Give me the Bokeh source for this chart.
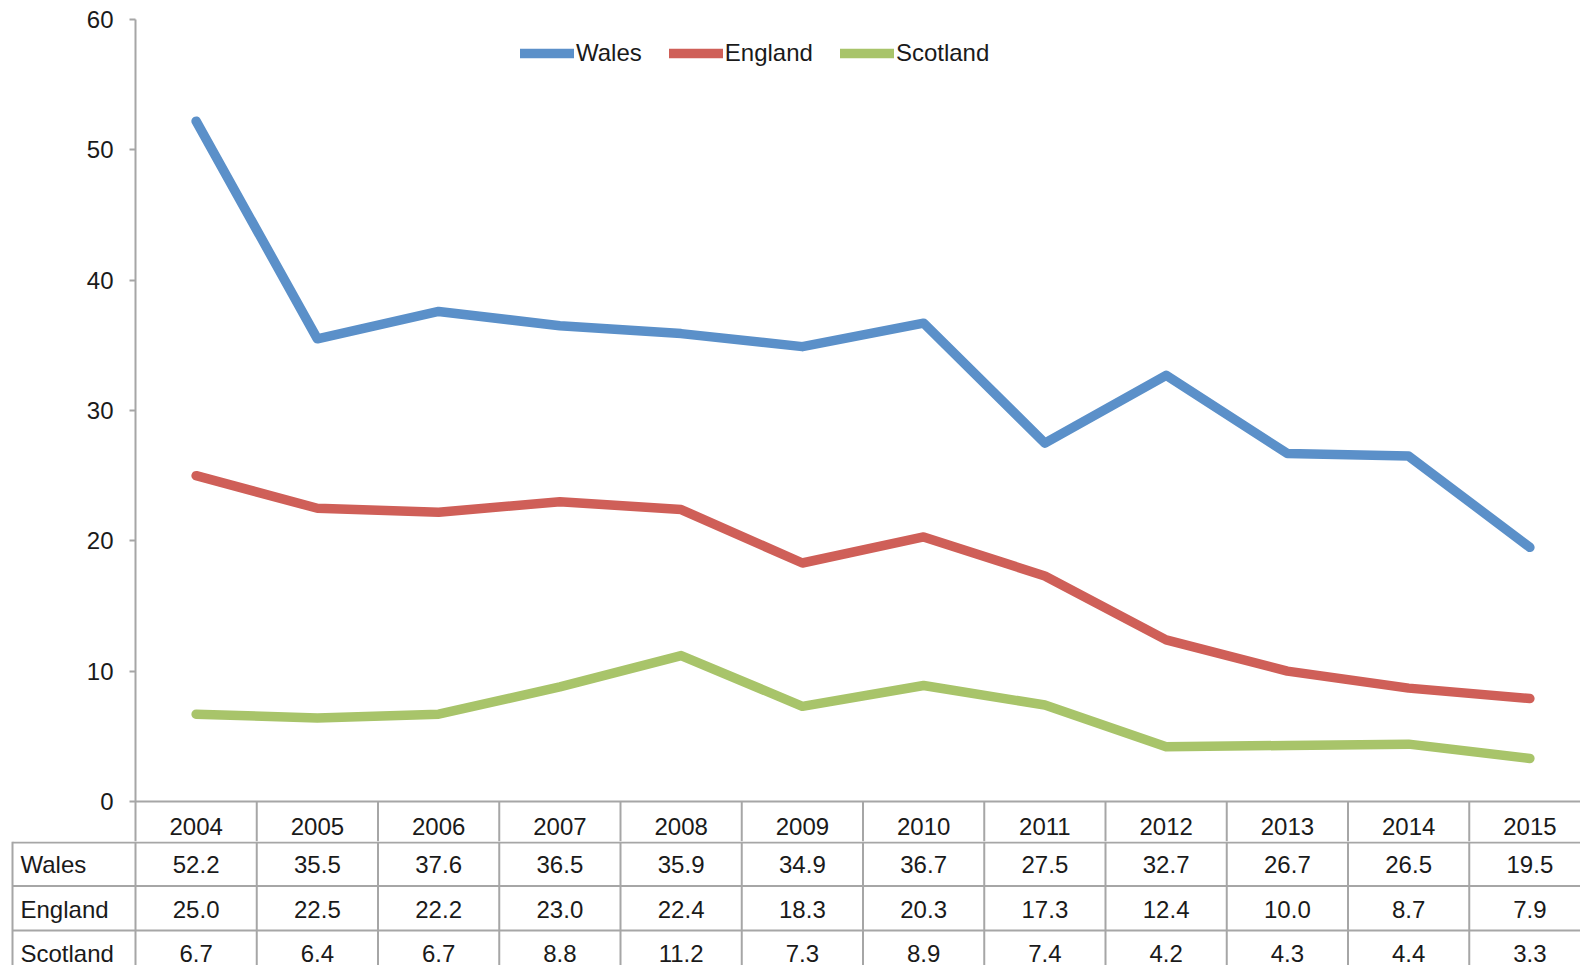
from bokeh.plotting import figure
from bokeh.models import Range1d, FixedTicker, Legend, LegendItem
from bokeh.layouts import column
from bokeh.core.properties import value
from bokeh.embed import file_html
from bokeh.resources import INLINE

years = ["2004", "2005", "2006", "2007", "2008", "2009", "2010", "2011", "2012", "2013", "2014", "2015"]
wales = [52.2, 35.5, 37.6, 36.5, 35.9, 34.9, 36.7, 27.5, 32.7, 26.7, 26.5, 19.5]
england = [25.0, 22.5, 22.2, 23.0, 22.4, 18.3, 20.3, 17.3, 12.4, 10.0, 8.7, 7.9]
scotland = [6.7, 6.4, 6.7, 8.8, 11.2, 7.3, 8.9, 7.4, 4.2, 4.3, 4.4, 3.3]
series_names = ["Wales", "England", "Scotland"]
y_ticks = [0, 10, 20, 30, 40, 50, 60]

colors = ["#5b90c9", "#cf5f58", "#a8c46a"]
FONT = value("Liberation Sans")
FS = "24px"
TXT = "#1a1a1a"
GRID = "#a6a6a6"

# layout constants (pixels)
W = 1590
LEFT = 135          # frame left
TOP = 19
PLOT_H = 782        # pixels from 60 to 0
HEADER_H = 40
TABLE_H = 127
ROW_H = 44.5
TABLE_LEFT = 12     # table left border

n = len(years)
cw = (W - LEFT) / n
ppu = PLOT_H / 60.0
ymin = -HEADER_H / ppu
xs = [i + 0.5 for i in range(n)]
frame_bottom = TOP + PLOT_H + HEADER_H

p = figure(width=W, height=frame_bottom, output_backend="svg", toolbar_location=None,
           x_range=Range1d(0, n), y_range=Range1d(ymin, 60), x_axis_location=None,
           min_border_left=LEFT, min_border_right=0, min_border_top=TOP, min_border_bottom=0,
           frame_align=False)
p.outline_line_color = None
p.xgrid.visible = False
p.ygrid.visible = False
p.background_fill_color = "white"

ax = p.yaxis[0]
ax.ticker = FixedTicker(ticks=y_ticks)
ax.bounds = (ymin, 60)
ax.axis_line_color = GRID
ax.axis_line_width = 2
ax.major_tick_line_color = GRID
ax.major_tick_line_width = 2
ax.major_tick_out = 6
ax.major_tick_in = 0
ax.minor_tick_line_color = None
ax.major_label_text_font = "Liberation Sans"
ax.major_label_text_font_size = FS
ax.major_label_text_color = TXT
ax.major_label_standoff = 16

# header row of the data table (category axis line + separators + years)
p.segment(x0=[0], y0=[0], x1=[n], y1=[0], line_color=GRID, line_width=2)
p.segment(x0=list(range(1, n)), y0=[0] * (n - 1), x1=list(range(1, n)), y1=[ymin] * (n - 1),
          line_color=GRID, line_width=2)
p.text(x=xs, y=[-25 / ppu] * n, text=years, text_font=FONT, text_font_size=FS,
       text_color=TXT, text_align="center", text_baseline="middle")

renderers = []
for name, vals, c in zip(series_names, [wales, england, scotland], colors):
    r = p.line(xs, vals, line_color=c, line_width=9.5, line_cap="round", line_join="round")
    renderers.append((name, r))

legend = Legend(items=[LegendItem(label=nm, renderers=[r]) for nm, r in renderers],
                orientation="horizontal", location=(385, frame_bottom - 67),
                border_line_color=None, background_fill_alpha=0,
                label_text_font="Liberation Sans", label_text_font_size=FS,
                label_text_color=TXT, glyph_width=54, glyph_height=24, label_height=24,
                label_standoff=2, spacing=27, padding=0, margin=0)
p.add_layout(legend, "center")

# data rows of the table
left_units = LEFT / cw
border_x = -(LEFT - TABLE_LEFT) / cw
t = figure(width=W, height=TABLE_H, output_backend="svg", toolbar_location=None,
           x_range=Range1d(-left_units, n), y_range=Range1d(-TABLE_H, 0),
           x_axis_location=None, y_axis_location=None,
           min_border_left=0, min_border_right=0, min_border_top=0, min_border_bottom=0,
           frame_align=False)
t.outline_line_color = None
t.xgrid.visible = False
t.ygrid.visible = False

row_tops = [-1, -ROW_H, -2 * ROW_H]
t.segment(x0=[border_x] * 3, y0=row_tops, x1=[n] * 3, y1=row_tops, line_color=GRID, line_width=2)
vx = [border_x] + list(range(0, n))
t.segment(x0=vx, y0=[0] * len(vx), x1=vx, y1=[-TABLE_H] * len(vx), line_color=GRID, line_width=2)

for ri, (name, vals) in enumerate(zip(series_names, [wales, england, scotland])):
    yc = -(ri + 0.5) * ROW_H - 1
    t.text(x=[border_x], y=[yc], text=[name], x_offset=8, text_font=FONT, text_font_size=FS,
           text_color=TXT, text_align="left", text_baseline="middle")
    t.text(x=xs, y=[yc] * n, text=[f"{v:.1f}" for v in vals], text_font=FONT, text_font_size=FS,
           text_color=TXT, text_align="center", text_baseline="middle")

layout = column(p, t, spacing=0)
open("out.html", "w").write(file_html(layout, INLINE))
